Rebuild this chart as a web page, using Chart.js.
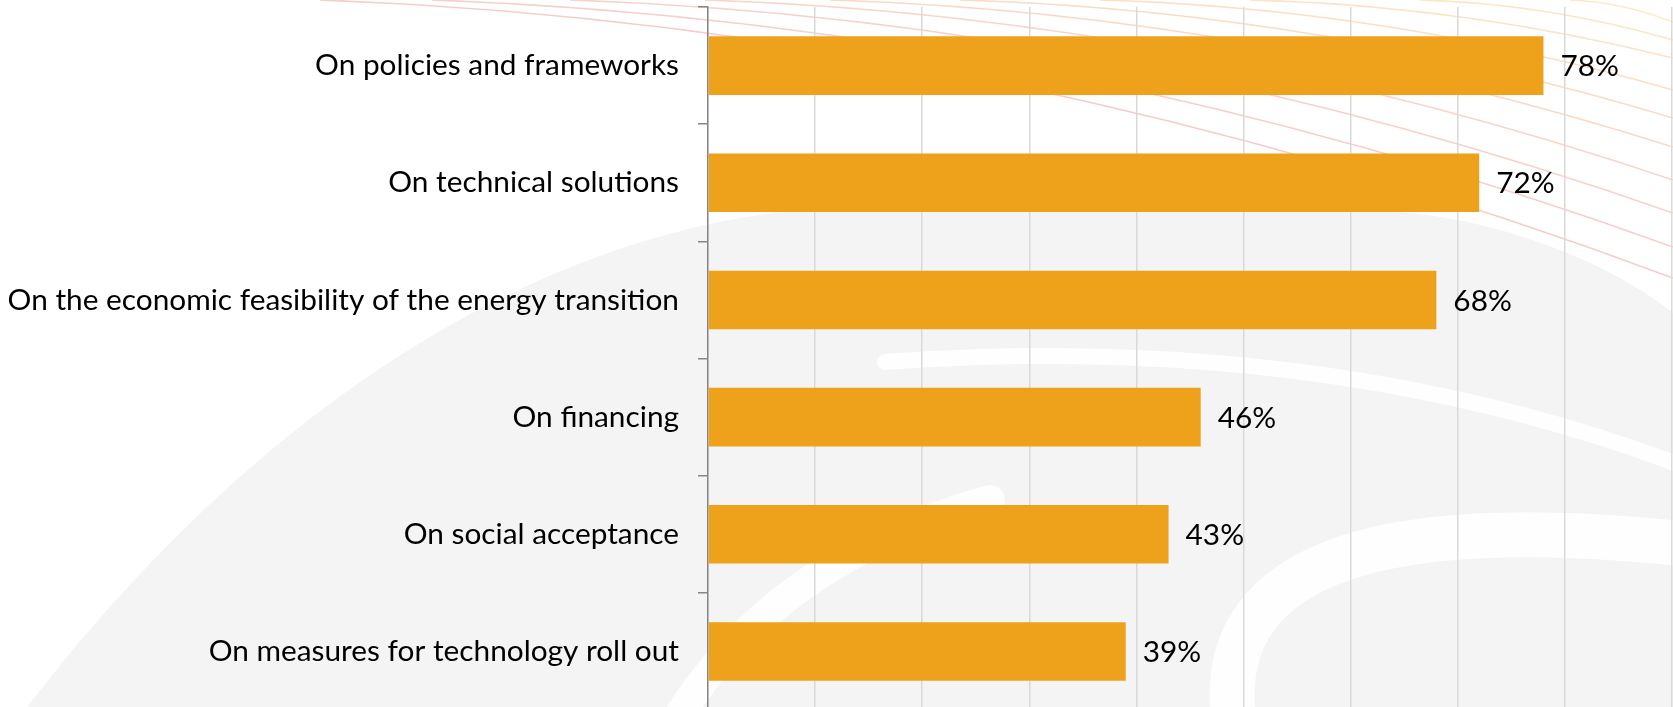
<!DOCTYPE html>
<html>
<head>
<meta charset="utf-8">
<script src="https://cdn.jsdelivr.net/npm/chart.js@4.4.1/dist/chart.umd.min.js"></script>
<style>
  html, body { margin: 0; padding: 0; background: #ffffff; overflow: hidden; }
  #wrap { width: 1673px; height: 710px; }
</style>
</head>
<body>
<div id="wrap"><canvas id="chart" width="1673" height="710"></canvas></div>
<script>
// Survey answers, top to bottom
const categories = [
  'On policies and frameworks',
  'On technical solutions',
  'On the economic feasibility of the energy transition',
  'On financing',
  'On social acceptance',
  'On measures for technology roll out'
];
const shares = [78, 72, 68, 46, 43, 39];
const axisMin = 0;
const axisMax = 90;
const axisStep = 10;

const FONT = 'Lato, "Open Sans", sans-serif';
const FONT_SIZE = 29.8;
const BAR_COLOR = '#EEA21C';

// Soft watermark behind the plot: grey dome, white sweeps, thin arcs
const backdrop = {
  id: 'backdrop',
  beforeDraw(chart) {
    const ctx = chart.ctx;
    const w = chart.width, h = chart.height;
    ctx.save();
    ctx.fillStyle = '#ffffff';
    ctx.fillRect(0, 0, w, h);

    ctx.fillStyle = '#f4f4f4';
    ctx.beginPath();
    ctx.moveTo(25, h);
    ctx.bezierCurveTo(200, 480, 480, 230, 830, 207);
    ctx.lineTo(1380, 211);
    ctx.bezierCurveTo(1480, 214, 1600, 255, w, 313);
    ctx.lineTo(w, h);
    ctx.closePath();
    ctx.fill();

    ctx.strokeStyle = 'rgba(255,255,255,0.85)';
    ctx.lineCap = 'round';
    ctx.lineWidth = 16;
    ctx.beginPath();
    ctx.moveTo(885, 362);
    ctx.quadraticCurveTo(1330, 330, w + 20, 470);
    ctx.stroke();

    ctx.lineWidth = 45;
    ctx.beginPath();
    ctx.moveTo(1235, h + 20);
    ctx.quadraticCurveTo(1195, 490, w + 20, 545);
    ctx.stroke();

    ctx.lineWidth = 30;
    ctx.beginPath();
    ctx.moveTo(670, h + 20);
    ctx.quadraticCurveTo(770, 560, 990, 500);
    ctx.stroke();

    // fan of thin arcs in the upper right, red inside to amber outside
    const starts = [320, 432, 570, 705, 830, 960, 1100, 1250, 1420, 1570];
    const ends = [278, 247, 213, 180, 147, 118, 90, 58, 40, 22];
    ctx.lineWidth = 1.6;
    ctx.lineCap = 'butt';
    for (let i = 0; i < starts.length; i++) {
      const t = i / (starts.length - 1);
      const r = Math.round(225 + 20 * t);
      const g = Math.round(120 + 80 * t);
      const b = Math.round(120 - 20 * t);
      ctx.strokeStyle = `rgba(${r},${g},${b},0.38)`;
      const x0 = starts[i], y1 = ends[i];
      ctx.beginPath();
      ctx.moveTo(x0, 0);
      ctx.quadraticCurveTo(x0 + 0.5 * (w - x0), 0.09 * y1, w, y1);
      ctx.stroke();
    }
    ctx.restore();
  }
};

// Percentage text to the right of each bar
const barValues = {
  id: 'barValues',
  afterDatasetsDraw(chart) {
    const ctx = chart.ctx;
    const meta = chart.getDatasetMeta(0);
    ctx.save();
    ctx.font = `${FONT_SIZE}px ${FONT}`;
    ctx.fillStyle = '#000000';
    ctx.textAlign = 'left';
    ctx.textBaseline = 'middle';
    meta.data.forEach((bar, i) => {
      ctx.fillText(shares[i] + '%', bar.x + 17, bar.y + 1);
    });
    ctx.restore();
  }
};

new Chart(document.getElementById('chart'), {
  type: 'bar',
  data: {
    labels: categories,
    datasets: [{
      data: shares,
      backgroundColor: BAR_COLOR,
      borderWidth: 0,
      barPercentage: 0.5,
      categoryPercentage: 1.0
    }]
  },
  options: {
    indexAxis: 'y',
    responsive: false,
    animation: false,
    devicePixelRatio: 1,
    layout: { padding: { top: 7, right: 1, bottom: 0, left: 0 } },
    plugins: {
      legend: { display: false },
      tooltip: { enabled: false }
    },
    scales: {
      x: {
        min: axisMin,
        max: axisMax,
        ticks: { stepSize: axisStep, display: false },
        grid: { color: '#d9d9d9', lineWidth: 1.5, drawTicks: false },
        border: { display: false },
        afterFit(scale) {
          scale.height = 0;
          scale.paddingLeft = 0;
          scale.paddingRight = 0;
        }
      },
      y: {
        ticks: {
          color: '#000000',
          font: { family: FONT, size: FONT_SIZE },
          padding: 19
        },
        grid: {
          offset: true,
          drawOnChartArea: false,
          drawTicks: true,
          tickLength: 10,
          color: '#868686',
          lineWidth: 1.5
        },
        border: { color: '#868686', width: 1.5 },
        afterFit(scale) {
          scale.width = 708;
          scale.paddingTop = 0;
          scale.paddingBottom = 0;
        }
      }
    }
  },
  plugins: [backdrop, barValues]
});
</script>
</body>
</html>
